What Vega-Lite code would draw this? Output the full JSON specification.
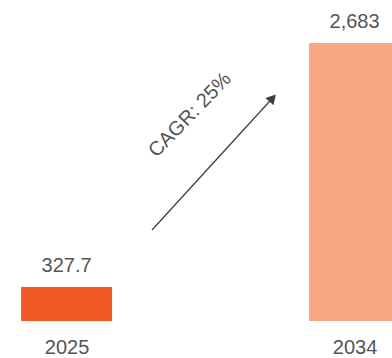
{
  "$schema": "https://vega.github.io/schema/vega-lite/v6.json",
  "width": 392,
  "height": 321,
  "autosize": {"type": "none"},
  "padding": {"left": 0, "top": 0, "right": 0, "bottom": 37},
  "background": "white",
  "config": {"view": {"stroke": null}, "font": "Liberation Sans"},
  "datasets": {
    "bars": [
      {"year": 2025, "value": 327.7, "label": "327.7"},
      {"year": 2034, "value": 2683, "label": "2,683"}
    ],
    "arrow": [
      {"x": 2027.67, "y": 878},
      {"x": 2031.44, "y": 2152}
    ],
    "tip": [
      {"x": 2031.44, "y": 2152}
    ],
    "note": [
      {"x": 2028.86, "y": 1988, "text": "CAGR: 25%"}
    ]
  },
  "layer": [
    {
      "data": {"name": "bars"},
      "mark": {"type": "bar", "size": 91, "clip": true, "orient": "vertical"},
      "encoding": {
        "x": {
          "field": "year", "type": "quantitative",
          "scale": {"domain": [2022.92, 2035.17], "nice": false, "zero": false, "padding": 0},
          "axis": {"values": [2025, 2034], "format": "d", "title": null, "ticks": false, "domain": false, "grid": false, "labelFontSize": 20, "labelColor": "#555555", "labelPadding": 16, "labelFlush": false}
        },
        "y": {
          "field": "value", "type": "quantitative",
          "scale": {"domain": [0, 3098], "nice": false},
          "axis": null
        },
        "color": {
          "field": "year", "type": "nominal",
          "scale": {"domain": [2025, 2034], "range": ["#F15A22", "#F7A880"]},
          "legend": null
        }
      }
    },
    {
      "data": {"name": "bars"},
      "mark": {"type": "text", "dy": -15, "baseline": "alphabetic", "fontSize": 20, "color": "#555555"},
      "encoding": {
        "x": {"field": "year", "type": "quantitative"},
        "y": {"field": "value", "type": "quantitative"},
        "text": {"field": "label"}
      }
    },
    {
      "data": {"name": "arrow"},
      "mark": {"type": "line", "color": "#404040", "strokeWidth": 1.3},
      "encoding": {
        "x": {"field": "x", "type": "quantitative"},
        "y": {"field": "y", "type": "quantitative"}
      }
    },
    {
      "data": {"name": "tip"},
      "mark": {"type": "point", "shape": "triangle-up", "angle": 42, "filled": true, "size": 120, "color": "#404040", "opacity": 1},
      "encoding": {
        "x": {"field": "x", "type": "quantitative"},
        "y": {"field": "y", "type": "quantitative"}
      }
    },
    {
      "data": {"name": "note"},
      "mark": {"type": "text", "angle": -46, "fontSize": 20, "color": "#555555", "align": "center", "baseline": "middle"},
      "encoding": {
        "x": {"field": "x", "type": "quantitative"},
        "y": {"field": "y", "type": "quantitative"},
        "text": {"field": "text"}
      }
    }
  ]
}
